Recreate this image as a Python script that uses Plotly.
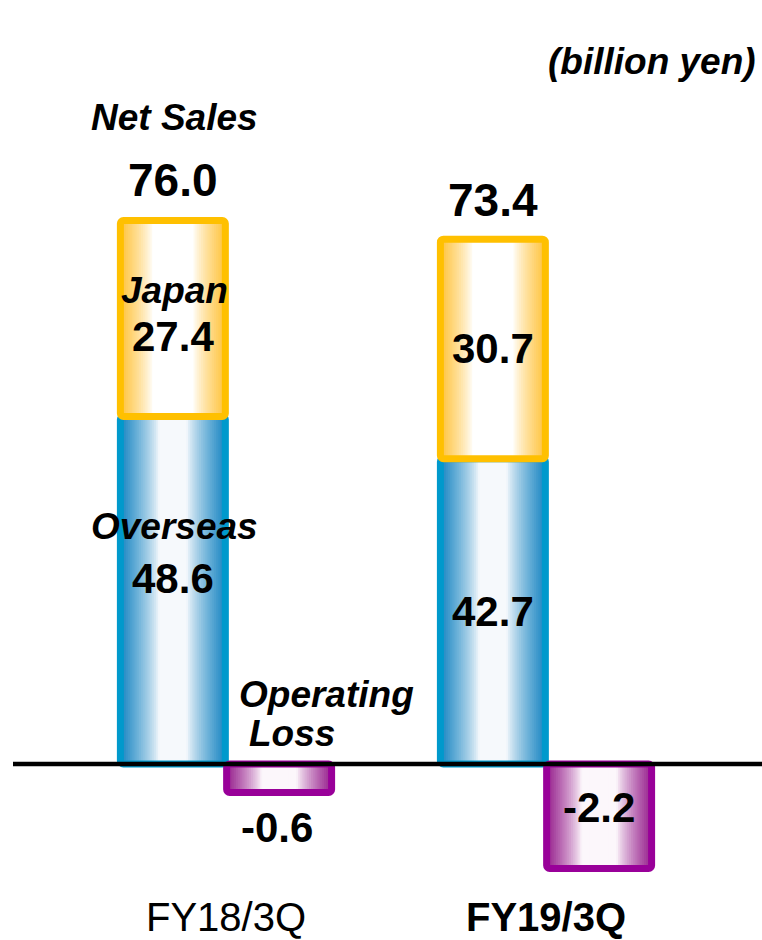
import plotly.graph_objects as go

# ---------------- data ----------------
categories = ["FY18/3Q", "FY19/3Q"]
tick_labels = ["FY18/3Q", "<b>FY19/3Q</b>"]
overseas = [48.6, 42.7]
japan = [27.4, 30.7]
net_sales = [76.0, 73.4]
operating_loss = [-0.6, -2.2]

# ---------------- styling ----------------
FONT = "Liberation Sans, Arial, Helvetica, sans-serif"
BAR_W = 0.328
STACK_C = -0.166
LOSS_C = 0.166
N_LAYERS = 24


def hex2rgb(h):
    h = h.lstrip("#")
    return tuple(int(h[i:i + 2], 16) for i in (0, 2, 4))


def mix(c_mid, c_edge, s):
    a, b = hex2rgb(c_mid), hex2rgb(c_edge)
    return "rgb(%d,%d,%d)" % tuple(round(a[i] + (b[i] - a[i]) * s) for i in range(3))


def gradient_bars(y, base, center, edge, inner, mid, yaxis, white_t):
    traces = []
    n = len(categories)
    for k in range(N_LAYERS):
        t = 1 - k * (1 - 0.18) / (N_LAYERS - 1)
        s = max(0.0, min(1.0, (t - white_t) / (1 - white_t)))
        s = s ** 0.8
        w = BAR_W * t
        traces.append(go.Bar(
            x=categories, y=y, base=base,
            width=[w] * n, offset=[center - w / 2] * n,
            marker=dict(color=mix(mid, inner, s), line=dict(width=0)),
            yaxis=yaxis, showlegend=False, hoverinfo="skip"))
    traces.append(go.Bar(
        x=categories, y=y, base=base,
        width=[BAR_W] * n, offset=[center - BAR_W / 2] * n,
        marker=dict(color="rgba(0,0,0,0)", line=dict(color=edge, width=7),
                    cornerradius=3),
        yaxis=yaxis, showlegend=False, hoverinfo="skip"))
    return traces


fig = go.Figure()
for tr in gradient_bars(overseas, [0] * len(overseas), STACK_C, "#0099CC",
                        "#1E88C4", "#F6F9FC", "y", 0.28):
    fig.add_trace(tr)
for tr in gradient_bars(japan, overseas, STACK_C, "#FFC000",
                        "#FFC440", "#FFFFFF", "y", 0.40):
    fig.add_trace(tr)
for tr in gradient_bars(operating_loss, [0] * len(operating_loss), LOSS_C, "#990099",
                        "#992590", "#FCF7FB", "y2", 0.35):
    fig.add_trace(tr)

# ---------------- annotations ----------------
ann = []
LBL = 37


def A(text, x, y, size, yshift=0, yref="y", xanchor="center", yanchor="middle",
      xshift=0, align="center"):
    ann.append(dict(text=text, x=x, y=y, xref="x", yref=yref, showarrow=False,
                    font=dict(family=FONT, size=size, color="black"),
                    xanchor=xanchor, yanchor=yanchor, yshift=yshift,
                    xshift=xshift, align=align))


# totals
for i, v in enumerate(net_sales):
    A("<b>%.1f</b>" % v, i + STACK_C, v, 46, yshift=41 if i == 0 else 39)
A("<b><i>Net Sales</i></b>", 0 + STACK_C, net_sales[0], LBL, yshift=103, xshift=2)

# japan segment
for i in range(len(categories)):
    mid = overseas[i] + japan[i] / 2
    A("<b>%.1f</b>" % japan[i], i + STACK_C, mid, 42, yshift=-18 if i == 0 else 0)
A("<b><i>Japan</i></b>", 0 + STACK_C, overseas[0] + japan[0] / 2, LBL, yshift=28, xshift=2)

# overseas segment
for i in range(len(categories)):
    mid = overseas[i] / 2
    A("<b>%.1f</b>" % overseas[i], i + STACK_C, mid, 42, yshift=12 if i == 0 else 0)
A("<b><i>Overseas</i></b>", 0 + STACK_C, overseas[0] / 2, LBL, yshift=64, xshift=2)

# operating loss
A("<b>%.1f</b>" % operating_loss[0], 0 + LOSS_C, operating_loss[0], 42,
  yshift=-35, yref="y2", xshift=-2)
A("<b>%.1f</b>" % operating_loss[1], 1 + LOSS_C, operating_loss[1] / 2, 42,
  yshift=9, yref="y2")
A("<b><i>Operating</i></b>", 0.034, 0, LBL, yshift=70, yref="y2", xanchor="left")
A("<b><i>Loss</i></b>", 0.065, 0, LBL, yshift=31, yref="y2", xanchor="left")

ann.append(dict(text="<b><i>(billion yen)</i></b>", x=1, y=1 - 62 / 880,
                xref="paper", yref="paper", showarrow=False, xanchor="right",
                yanchor="middle", xshift=-4,
                font=dict(family=FONT, size=LBL, color="black")))

fig.update_layout(
    width=762, height=940,
    margin=dict(l=13, r=0, t=0, b=60, autoexpand=False),
    paper_bgcolor="white", plot_bgcolor="white",
    barmode="overlay",
    showlegend=False,
    font=dict(family=FONT, color="black"),
    xaxis=dict(type="category", categoryorder="array", categoryarray=categories,
               tickvals=categories, ticktext=tick_labels, automargin=False,
               range=[-0.6656, 1.675], showgrid=False, zeroline=False,
               showline=False, ticks="", ticklabelstandoff=10,
               tickfont=dict(family=FONT, size=40, color="black")),
    yaxis=dict(range=[-116 / 7.15, 764 / 7.15], visible=False, showgrid=False,
               zeroline=False, automargin=False),
    yaxis2=dict(range=[-116 / 47.5, 764 / 47.5], overlaying="y", visible=False,
                showgrid=False, zeroline=False, automargin=False),
    shapes=[dict(type="line", xref="paper", x0=0, x1=1, yref="y", y0=0, y1=0,
                 line=dict(color="black", width=4.5), layer="above")],
    annotations=ann,
)

fig.write_html(
    "out.html",
    config={"displayModeBar": False},
    post_script="document.documentElement.style.margin='0';"
                "document.body.style.margin='0';"
                "document.body.style.overflow='hidden';",
)
